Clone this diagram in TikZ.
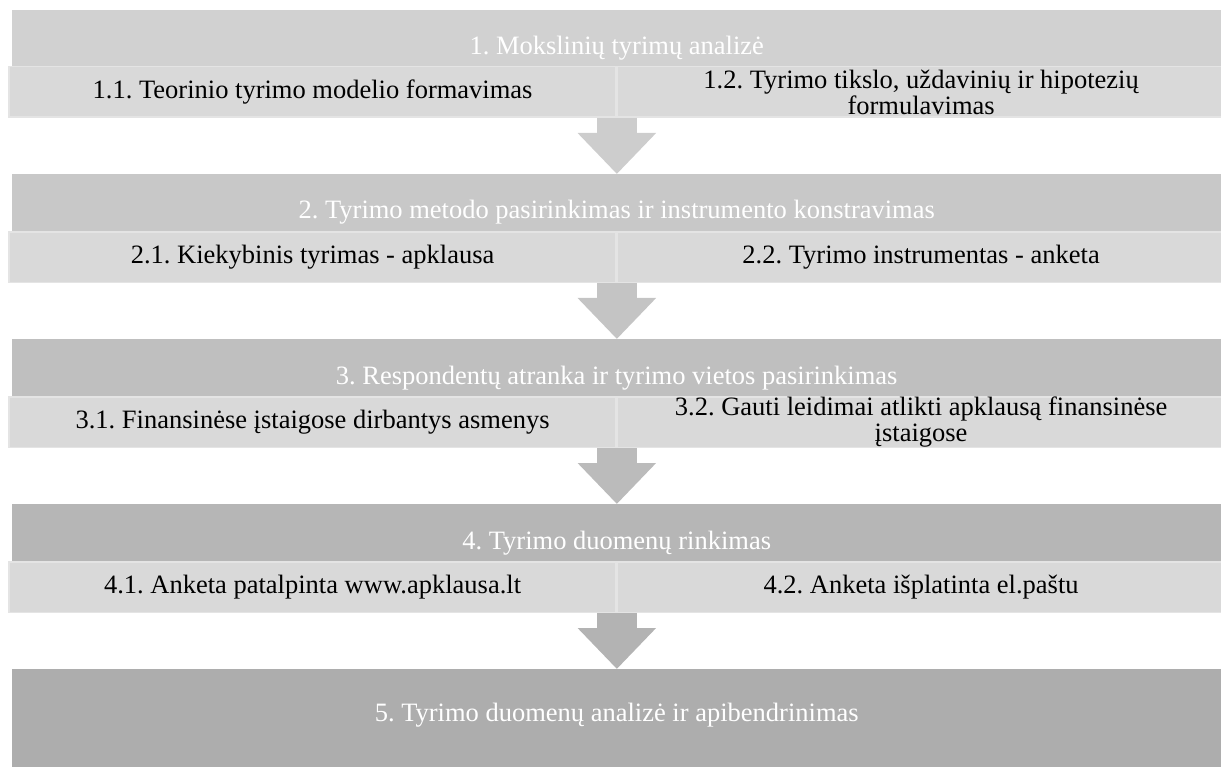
\documentclass[tikz,border=0pt]{standalone}
\usepackage{fontspec}
\setmainfont{Liberation Serif}
\usetikzlibrary{arrows.meta,positioning}
\frenchspacing

\definecolor{stageA}{HTML}{D1D1D1}
\definecolor{stageB}{HTML}{C8C8C8}
\definecolor{stageC}{HTML}{BFBFBF}
\definecolor{stageD}{HTML}{B6B6B6}
\definecolor{stageE}{HTML}{ADADAD}
\definecolor{arrowA}{HTML}{CDCDCD}
\definecolor{arrowB}{HTML}{C4C4C4}
\definecolor{arrowC}{HTML}{BBBBBB}
\definecolor{arrowD}{HTML}{B3B3B3}
\definecolor{subfill}{HTML}{D9D9D9}
\definecolor{subline}{HTML}{E4E4E4}

\tikzset{
  stagebox/.style={fill=#1, inner sep=0pt, outer sep=0pt, minimum width=1210pt, minimum height=108pt, anchor=north west},
  stagetitle/.style={text=white, inner sep=0pt, anchor=base, font=\fontsize{26.5}{30}\selectfont},
  subbox/.style={fill=subfill, draw=subline, line width=1.5pt, inner sep=0pt, minimum width=607pt, minimum height=50.5pt, text width=530pt, align=flush center, font=\fontsize{26.5}{26}\selectfont},
  stagearrow/.style={draw=#1, line width=40pt, -{Triangle[length=41pt,width=76pt]}}
}

\begin{document}
\begin{tikzpicture}[x=1pt,y=-1pt]
\clip (0,0) rectangle (1221,767);
% stages
\foreach \k/\ytop/\col/\ttl in {1/10/stageA/{1. Mokslinių tyrimų analizė},
    2/174/stageB/{2. Tyrimo metodo pasirinkimas ir instrumento konstravimas},
    3/339/stageC/{3. Respondentų atranka ir tyrimo vietos pasirinkimas},
    4/504/stageD/{4. Tyrimo duomenų rinkimas}}
{
  \node[stagebox=\col] (box\k) at (11.7,\ytop) {};
  \node[stagetitle] (title\k) at ([yshift=-45pt]box\k.north) {\ttl};
}
\node[stagebox=stageE, minimum height=110pt] (box5) at (11.7,669) {};
\node[stagetitle] (title5) at ([yshift=-52pt]box5.north) {5. Tyrimo duomenų analizė ir apibendrinimas};

% sub-steps
\foreach \k/\ymid/\la/\lb in {1/92/{1.1. Teorinio tyrimo modelio formavimas}/{1.2. Tyrimo tikslo, uždavinių ir hipotezių formulavimas},
    2/257.5/{2.1. Kiekybinis tyrimas - apklausa}/{2.2. Tyrimo instrumentas - anketa},
    3/422/{3.1. Finansinėse įstaigose dirbantys asmenys}/{3.2. Gauti leidimai atlikti apklausą finansinėse įstaigose},
    4/587/{4.1. Anketa patalpinta www.apklausa.lt}/{4.2. Anketa išplatinta el.paštu}}
{
  \node[subbox] (left\k) at (312.6,\ymid) {\la};
  \node[subbox, right=0pt of left\k] (right\k) {\lb};
}

% arrows
\foreach \k/\n/\col in {1/2/arrowA, 2/3/arrowB, 3/4/arrowC, 4/5/arrowD}
  \draw[stagearrow=\col] (left\k.south east) -- (left\k.south east |- box\n.north);
\end{tikzpicture}
\end{document}
